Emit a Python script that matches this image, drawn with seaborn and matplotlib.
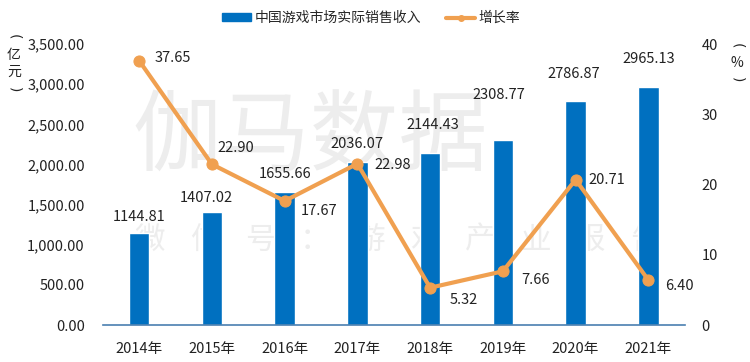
import matplotlib
matplotlib.use("Agg")
import matplotlib.pyplot as plt
import seaborn as sns
import pandas as pd
from matplotlib.lines import Line2D
from matplotlib.patches import Patch

years = ["2014年", "2015年", "2016年", "2017年", "2018年", "2019年", "2020年", "2021年"]
revenue = [1144.81, 1407.02, 1655.66, 2036.07, 2144.43, 2308.77, 2786.87, 2965.13]
growth = [37.65, 22.90, 17.67, 22.98, 5.32, 7.66, 20.71, 6.40]
left_ticks = [0, 500, 1000, 1500, 2000, 2500, 3000, 3500]
right_ticks = [0, 10, 20, 30, 40]
bar_name = "中国游戏市场实际销售收入"
line_name = "增长率"
left_unit = "亿元"
right_unit = "%"
watermark_1 = "伽马数据"
watermark_2 = "微信号：游戏产业报告"

sns.set_theme(style="white")
plt.rcParams["font.family"] = ["Noto Sans CJK SC", "DejaVu Sans"]

BLUE = "#0070C0"
ORANGE = "#F0A050"
TXT = "#222222"
WM = "#EDEDED"
FS = 10.5
H, W = 362, 750

df = pd.DataFrame({"year": years, "revenue": revenue, "growth": growth})

fig = plt.figure(figsize=(7.5, 3.62), dpi=100)
ax = fig.add_axes([0.137, 0.102, 0.776, 0.776])

# watermark (behind everything)
fig.text(0.413, 0.615, watermark_1, fontsize=64, color=WM, ha="center", va="center", zorder=-10)
for i, ch in enumerate(watermark_2):
    fig.text((150 + i * 55) / W, 0.337, ch, fontsize=22, color=WM, ha="center", va="center", zorder=-10)
ax.patch.set_alpha(0)

sns.barplot(data=df, x="year", y="revenue", color=BLUE, saturation=1, width=0.28, ax=ax, zorder=2)
ax.set_ylim(0, 3500)
ax.set_yticks(left_ticks)
ax.set_yticklabels([f"{v:,.2f}" for v in left_ticks], fontsize=FS, color=TXT)
ax.set_xlim(-0.5, len(years) - 0.5)
ax.tick_params(axis="x", labelsize=FS, colors=TXT, length=0, pad=12)
ax.tick_params(axis="y", length=0, pad=13)
ax.set_xlabel("")
ax.set_ylabel("")
for s in ["top", "right", "left"]:
    ax.spines[s].set_visible(False)
ax.spines["bottom"].set_color("#4A7FB0")
ax.spines["bottom"].set_linewidth(1.2)

ax2 = ax.twinx()
ax2.patch.set_alpha(0)
sns.lineplot(x=list(range(len(years))), y=growth, ax=ax2, color=ORANGE, linewidth=3,
             marker="o", markersize=8, markeredgecolor=ORANGE, sort=False, zorder=3)
ax2.set_ylim(0, 40)
ax2.set_yticks(right_ticks)
ax2.set_yticklabels([str(v) for v in right_ticks], fontsize=FS, color=TXT)
ax2.tick_params(axis="y", length=0, pad=12)
for s in ["top", "right", "left", "bottom"]:
    ax2.spines[s].set_visible(False)
ax2.set_xlim(-0.5, len(years) - 0.5)

# bar value labels (drawn on top axes so the line does not cover them)
bar_offsets = [(0, 12), (-4, 10), (0, 13), (0, 13), (2, 20), (-3, 32), (-1, 19.5), (0, 20)]
for i, v in enumerate(revenue):
    ax2.annotate(f"{v:.2f}", (i, v), xycoords=ax.transData, xytext=bar_offsets[i],
                 textcoords="offset points", ha="center", va="center", fontsize=FS,
                 color=TXT, zorder=5)

line_offsets = [(11, 2), (4, 12), (11.5, -7), (12, -1), (14, -9), (13, -6.5), (9.5, 0), (12, -4)]
for i, v in enumerate(growth):
    ax2.annotate(f"{v:.2f}", (i, v), xytext=line_offsets[i], textcoords="offset points",
                 ha="left", va="center", fontsize=FS, color=TXT, zorder=5)


# axis unit labels, stacked vertically with bracket arcs
def vertical_unit(x_px, chars, y_top_px, step_px):
    ys = [y_top_px + k * step_px for k in range(len(chars) + 2)]
    fig.text(x_px / W, 1 - ys[0] / H, "(", rotation=-90, fontsize=10, color=TXT,
             ha="center", va="center", family="DejaVu Sans")
    for k, ch in enumerate(chars):
        fig.text(x_px / W, 1 - ys[k + 1] / H, ch, fontsize=10, color=TXT, ha="center", va="center")
    fig.text(x_px / W, 1 - ys[-1] / H, ")", rotation=-90, fontsize=10, color=TXT,
             ha="center", va="center", family="DejaVu Sans")


vertical_unit(14, left_unit, 37, 17.5)
vertical_unit(737, right_unit, 46, 17)

handles = [Patch(facecolor=BLUE, edgecolor=BLUE),
           Line2D([0], [0], color=ORANGE, linewidth=3, marker="o", markersize=4)]
leg = fig.legend(handles, [bar_name, line_name], loc="center", bbox_to_anchor=(0.495, 0.95),
                 ncol=2, frameon=False, fontsize=10, handlelength=2.1, handleheight=0.5,
                 columnspacing=1.8, handletextpad=0.25)

fig.savefig("out.png", dpi=100)
